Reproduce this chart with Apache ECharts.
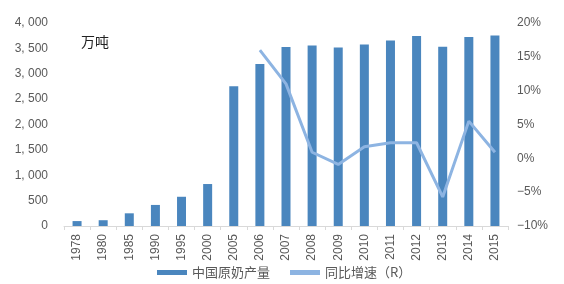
<!DOCTYPE html>
<html><head><meta charset="utf-8">
<script src="https://cdn.jsdelivr.net/npm/echarts@6/dist/echarts.min.js"></script>
<style>html,body{margin:0;padding:0;background:#fff}#c{width:564px;height:284px}</style>
</head><body><div id="c"></div>
<script>
const categories = ['1978','1980','1985','1990','1995','2000','2005','2006','2007','2008','2009','2010','2011','2012','2013','2014','2015'];
const production = [97, 114, 250, 415, 576, 827, 2753, 3193, 3525, 3556, 3518, 3576, 3657, 3744, 3531, 3725, 3755];
const growth = [null, null, null, null, null, null, null, 16.0, 11.0, 0.9, -0.9, 1.7, 2.3, 2.3, -5.7, 5.5, 0.9];
const leftTicks = [0, 4000, 500];
const rightTicks = [-10, 20, 5];

const chart = echarts.init(document.getElementById('c'), null, {renderer: 'canvas'});
const fam = '"Liberation Sans", Arial, sans-serif';
chart.setOption({
  animation: false,
  grid: {left: 64, right: 56, top: 23, bottom: 58},
  title: {text: '万吨', left: 76, top: 30, textStyle: {fontSize: 14, fontWeight: 'normal', color: '#222', fontFamily: '"Noto Sans CJK SC"'}},
  legend: {
    bottom: 0, left: 152, itemGap: 20, itemWidth: 30, itemHeight: 5,
    textStyle: {fontSize: 13, color: '#595959', fontFamily: '"Noto Sans CJK SC"'},
    data: [{name: '中国原奶产量', icon: 'rect'}, {name: '同比增速（R）', icon: 'rect', itemStyle: {color: '#8db4e2'}}]
  },
  xAxis: {
    type: 'category', data: categories, boundaryGap: true,
    axisLine: {lineStyle: {color: '#d9d9d9'}},
    axisTick: {show: true, length: 4, lineStyle: {color: '#d9d9d9'}},
    axisLabel: {rotate: 90, interval: 0, fontSize: 12, color: '#595959', fontFamily: fam, margin: 8}
  },
  yAxis: [{
    type: 'value', min: leftTicks[0], max: leftTicks[1], interval: leftTicks[2],
    splitLine: {show: false}, axisLine: {show: false}, axisTick: {show: false},
    axisLabel: {fontSize: 12, color: '#595959', fontFamily: fam, margin: 16,
      formatter: v => v.toLocaleString('en-US').replace(',', ', ')}
  }, {
    type: 'value', min: rightTicks[0], max: rightTicks[1], interval: rightTicks[2],
    splitLine: {show: false}, axisLine: {show: false}, axisTick: {show: false},
    axisLabel: {fontSize: 12, color: '#595959', fontFamily: fam, margin: 9,
      formatter: v => (v < 0 ? '\u2212' + Math.abs(v) : v) + '%'}
  }],
  series: [{
    name: '中国原奶产量', type: 'bar', data: production, barWidth: 9,
    itemStyle: {color: '#4a86be'}
  }, {
    name: '同比增速（R）', type: 'line', yAxisIndex: 1, data: growth,
    symbol: 'none', lineStyle: {width: 3, color: '#8db4e2'}, itemStyle: {color: '#8db4e2'}
  }]
});
</script></body></html>
